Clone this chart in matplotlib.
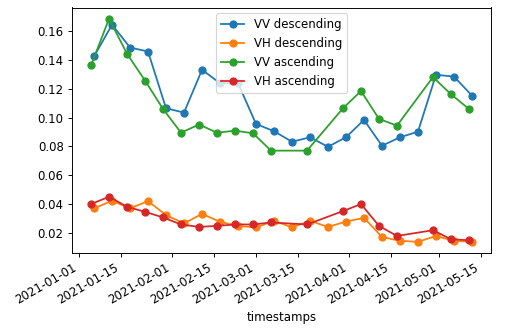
import matplotlib
matplotlib.use("Agg")
import matplotlib.pyplot as plt
import numpy as np
import pandas as pd

start = pd.Timestamp("2021-01-01")

# Acquisition days (offset from 2021-01-01)
desc_days = [5, 11, 17, 23, 29, 35, 41, 47, 53, 59, 65, 71, 77, 83, 89, 95,
             101, 107, 113, 119, 125, 131]
asc_days = [4, 10, 16, 22, 28, 34, 40, 46, 52, 58, 64, 76, 88, 94, 100, 106,
            118, 124, 130]

vv_desc = [0.1426, 0.1647, 0.1488, 0.1460, 0.1065, 0.1035, 0.1333, 0.1240,
           0.1240, 0.0956, 0.0905, 0.0832, 0.0863, 0.0797, 0.0863, 0.0984,
           0.0804, 0.0863, 0.0902, 0.1298, 0.1286, 0.1153]
vh_desc = [0.0368, 0.0421, 0.0368, 0.0419, 0.0321, 0.0263, 0.0330, 0.0274,
           0.0246, 0.0235, 0.0281, 0.0236, 0.0281, 0.0239, 0.0276, 0.0302,
           0.0169, 0.0142, 0.0135, 0.0176, 0.0142, 0.0135]
vv_asc = [0.1363, 0.1689, 0.1444, 0.1258, 0.1060, 0.0895, 0.0952, 0.0895,
          0.0909, 0.0891, 0.0770, 0.0770, 0.1065, 0.1185, 0.0991, 0.0944,
          0.1282, 0.1163, 0.1060]
vh_asc = [0.0398, 0.0449, 0.0379, 0.0344, 0.0305, 0.0256, 0.0239, 0.0246,
          0.0256, 0.0256, 0.0270, 0.0256, 0.0349, 0.0398, 0.0246, 0.0176,
          0.0216, 0.0153, 0.0146]

desc_dates = [start + pd.Timedelta(days=d) for d in desc_days]
asc_dates = [start + pd.Timedelta(days=d) for d in asc_days]

DPI = 85
fig = plt.figure(figsize=(516 / DPI, 336 / DPI), dpi=DPI)
ax = fig.add_axes([72 / 516, 1 - 253 / 336, (491 - 72) / 516, (253 - 7.5) / 336])

ax.plot(desc_dates, vv_desc, marker="o", label="VV descending")
ax.plot(desc_dates, vh_desc, marker="o", label="VH descending")
ax.plot(asc_dates, vv_asc, marker="o", label="VV ascending")
ax.plot(asc_dates, vh_asc, marker="o", label="VH ascending")

ax.set_xlabel("timestamps")
ax.legend(loc="upper center")
for lbl in ax.get_xticklabels():
    lbl.set_rotation(30)
    lbl.set_ha("right")
fig.canvas.draw()
for lbl in ax.get_xticklabels():
    lbl.set_rotation(30)
    lbl.set_ha("right")

fig.savefig("out.png", dpi=DPI)
